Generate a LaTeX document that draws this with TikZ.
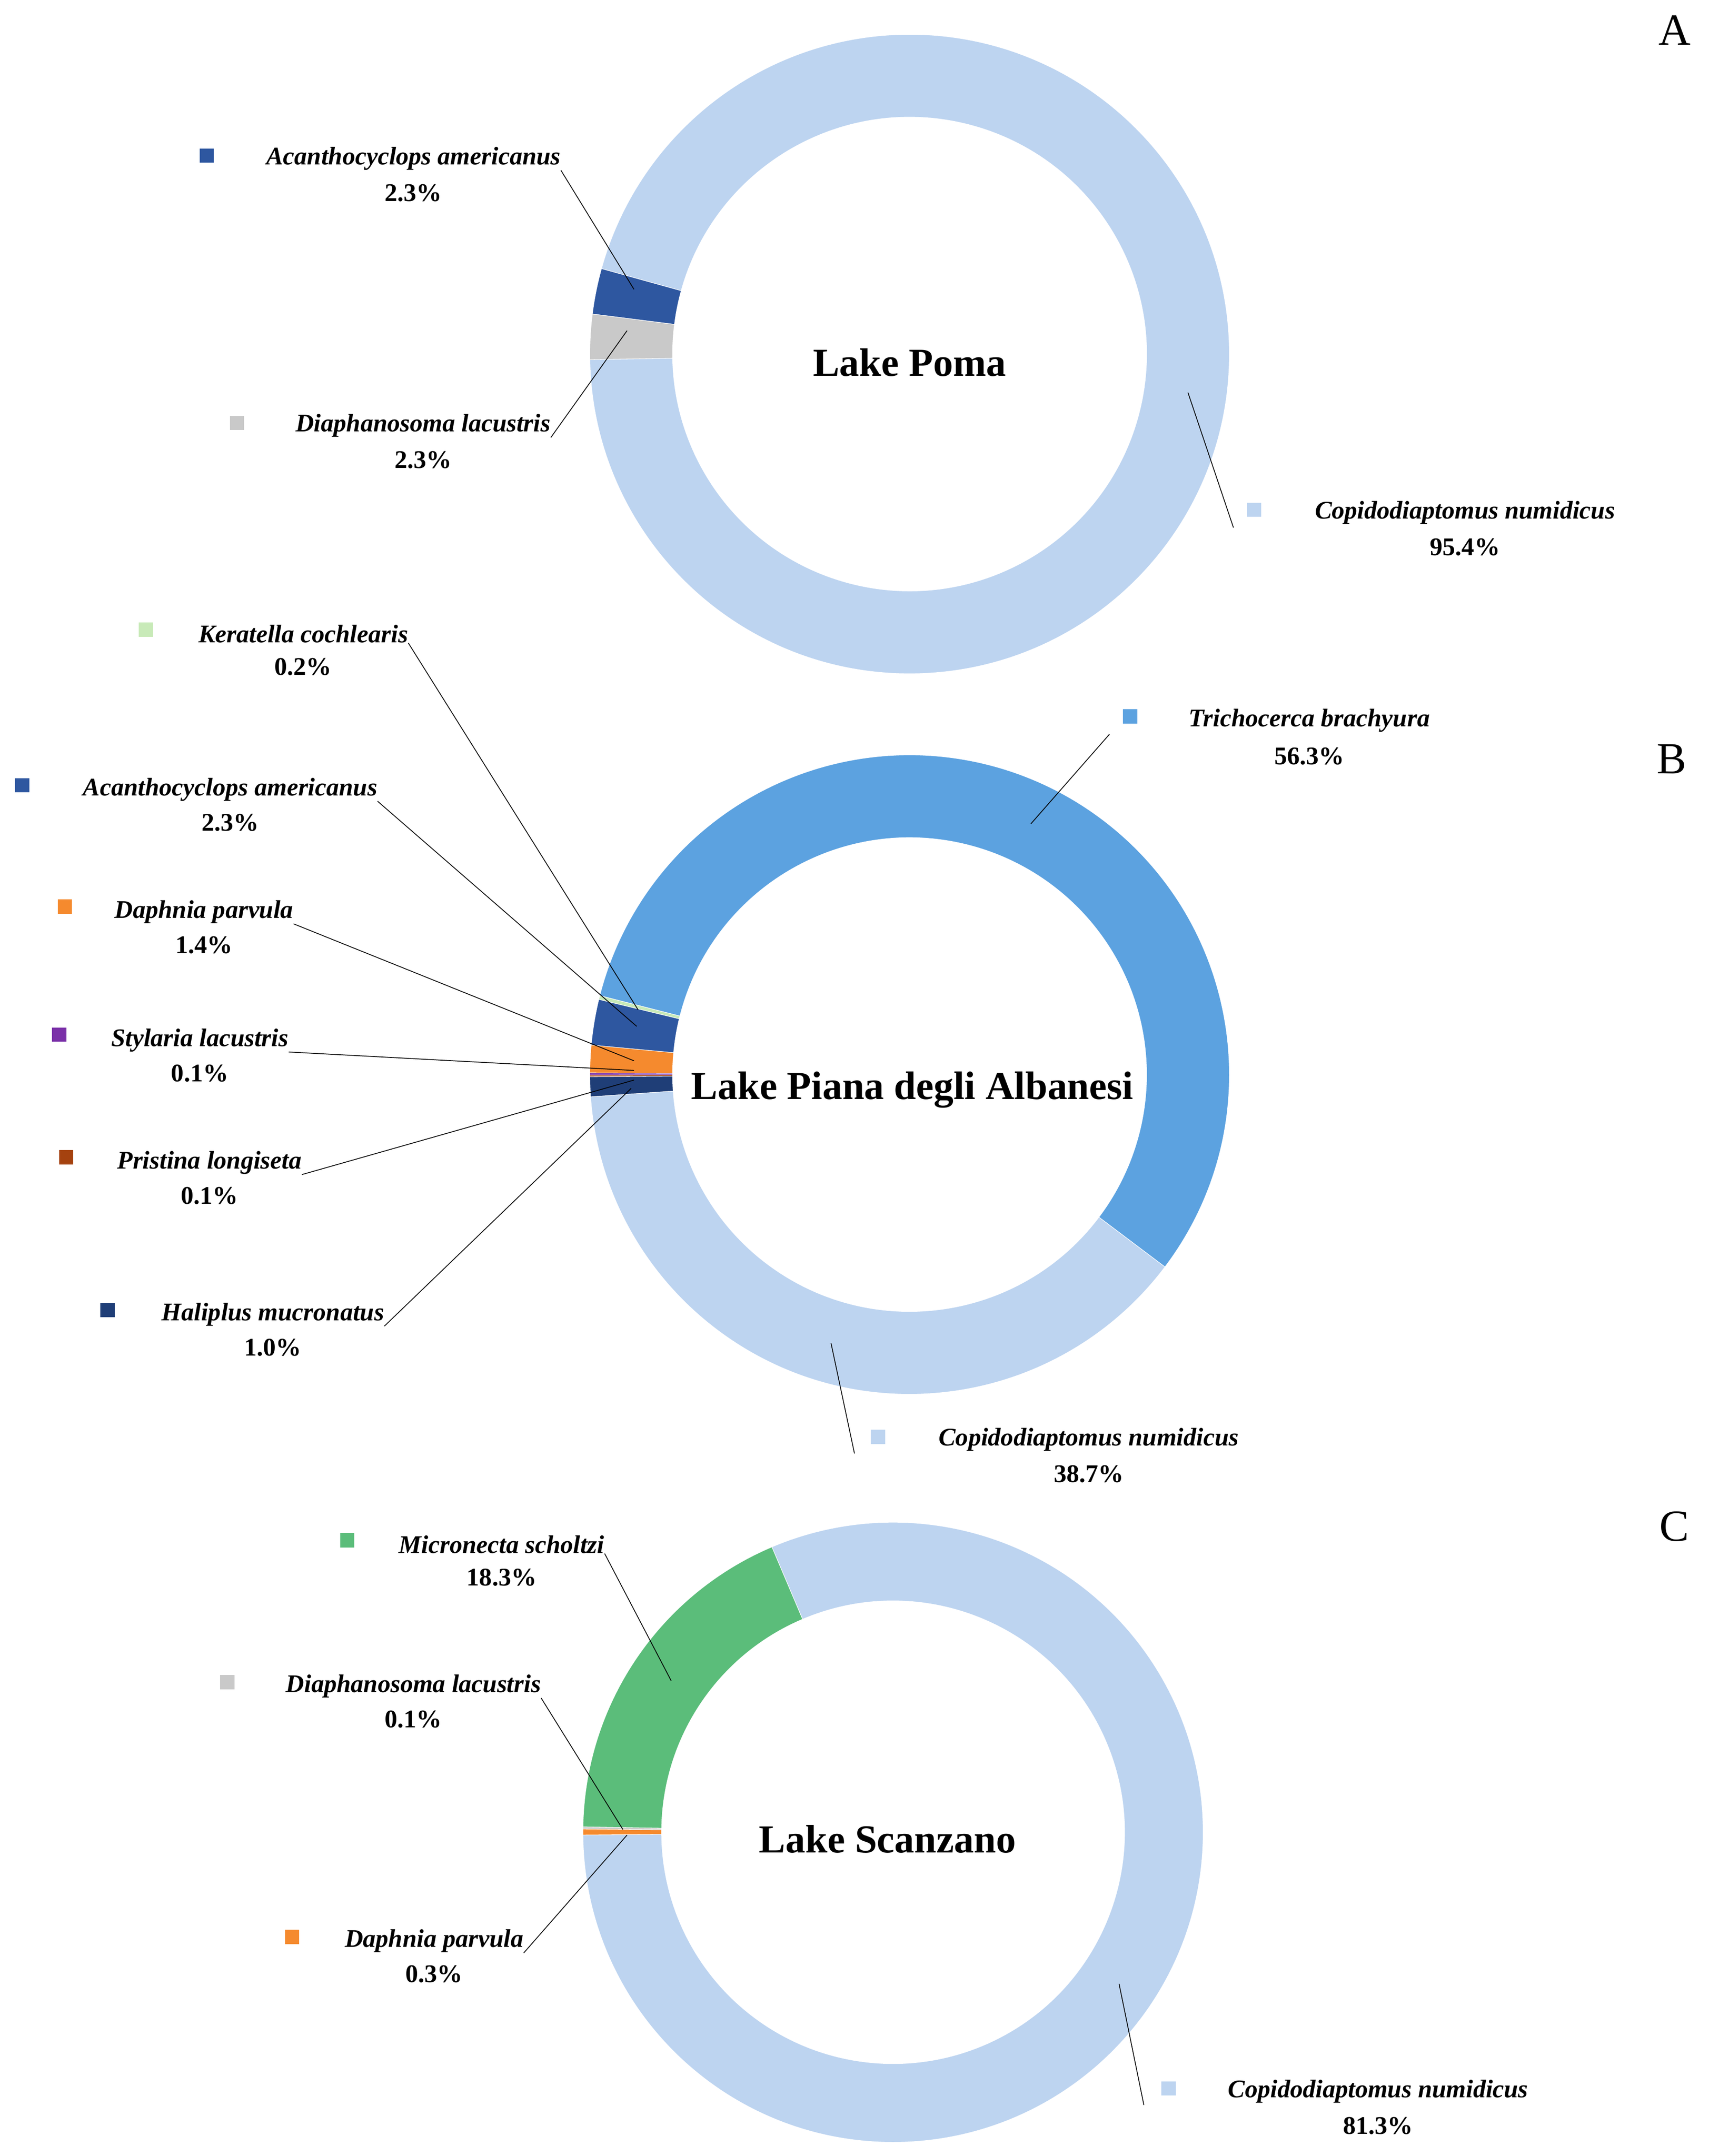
\documentclass[tikz,border=0pt]{standalone}
\usepackage{fontspec}
\setmainfont{Liberation Serif}
\begin{document}
\begin{tikzpicture}[x=0.0305cm,y=0.0305cm,
  lab/.style={font=\fontsize{16}{19}\selectfont\bfseries\itshape,inner sep=0pt},
  pct/.style={font=\fontsize{16}{19}\selectfont\bfseries,inner sep=0pt},
  ttl/.style={font=\fontsize{25}{30}\selectfont\bfseries,inner sep=0pt},
  let/.style={font=\fontsize{28}{32}\selectfont,inner sep=0pt},
  mk/.style={minimum size=9pt,inner sep=0pt},
  lead/.style={draw=black,line width=0.5pt}]
\definecolor{lb}{HTML}{BDD4F0}\definecolor{db}{HTML}{2E57A0}\definecolor{gr}{HTML}{C9C9C9}
\definecolor{mb}{HTML}{5CA2E0}\definecolor{og}{HTML}{F58A2E}\definecolor{pu}{HTML}{7A30A8}
\definecolor{br}{HTML}{A5420F}\definecolor{nv}{HTML}{1F3E77}\definecolor{gn}{HTML}{5BBD7A}
\definecolor{lg}{HTML}{C8EAB8}
\useasboundingbox (0,0) rectangle (1240,-1565);
\newcommand{\seg}[7]{\fill[#7,draw=white,line width=0.3pt] ([shift={(#1,#2)}]#5:#3) arc[start angle=#5,end angle=#6,radius=#3] -- ([shift={(#1,#2)}]#6:#4) arc[start angle=#6,end angle=#5,radius=#4] -- cycle;}
% A
\seg{660}{-257}{232}{172}{181}{524.5}{lb}
\seg{660}{-257}{232}{172}{164.5}{172.8}{db}
\seg{660}{-257}{232}{172}{172.8}{181}{gr}
\node[ttl] (tA) at (660,-263) {Lake Poma};
\node[let] (LA) at (1215,-22) {A};
\node[lab] (a1) at (300,-115) {Acanthocyclops americanus};\node[pct] at (300,-140) {2.3\%};\node[mk,fill=db] at (150,-113) {};
\node[lab] (a2) at (307,-309) {Diaphanosoma lacustris};\node[pct] at (307,-334) {2.3\%};\node[mk,fill=gr] at (172,-307) {};
\node[lab] (a3) at (1063,-372) {Copidodiaptomus numidicus};\node[pct] at (1063,-397) {95.4\%};\node[mk,fill=lb] at (910,-370) {};
\coordinate (ea1) at (460,-210);\coordinate (ea2) at (455,-240);\coordinate (ea3) at (862,-285);
\draw[lead] (a1.south east) -- (ea1);\draw[lead] (a2.south east) -- (ea2);\draw[lead] (895,-383) -- (ea3);
% B
\seg{660}{-780}{232}{172}{-37}{165.7}{mb}
\seg{660}{-780}{232}{172}{165.7}{166.4}{lg}
\seg{660}{-780}{232}{172}{166.4}{174.7}{db}
\seg{660}{-780}{232}{172}{174.7}{179.7}{og}
\seg{660}{-780}{232}{172}{179.7}{180.1}{pu}
\seg{660}{-780}{232}{172}{180.1}{180.4}{br}
\seg{660}{-780}{232}{172}{180.4}{184}{nv}
\seg{660}{-780}{232}{172}{184}{323}{lb}
\node[ttl] (tB) at (662,-791) {Lake Piana degli Albanesi};
\node[let] (LB) at (1213,-551) {B};
\node[lab] (b1) at (220,-460) {Keratella cochlearis};\node[pct] at (220,-484) {0.2\%};\node[mk,fill=lg] at (106,-457) {};
\node[lab] (b2) at (950,-523) {Trichocerca brachyura};\node[pct] at (950,-549) {56.3\%};\node[mk,fill=mb] at (820,-520) {};
\node[lab] (b3) at (167,-573) {Acanthocyclops americanus};\node[pct] at (167,-597) {2.3\%};\node[mk,fill=db] at (16,-570) {};
\node[lab] (b4) at (148,-662) {Daphnia parvula};\node[pct] at (148,-686) {1.4\%};\node[mk,fill=og] at (47,-658) {};
\node[lab] (b5) at (145,-755) {Stylaria lacustris};\node[pct] at (145,-779) {0.1\%};\node[mk,fill=pu] at (43,-751) {};
\node[lab] (b6) at (152,-844) {Pristina longiseta};\node[pct] at (152,-868) {0.1\%};\node[mk,fill=br] at (48,-840) {};
\node[lab] (b7) at (198,-954) {Haliplus mucronatus};\node[pct] at (198,-978) {1.0\%};\node[mk,fill=nv] at (78,-951) {};
\node[lab] (b8) at (790,-1045) {Copidodiaptomus numidicus};\node[pct] at (790,-1070) {38.7\%};\node[mk,fill=lb] at (637,-1043) {};
\coordinate (eb1) at (463,-733);\coordinate (eb2) at (748,-598);\coordinate (eb3) at (462,-745);
\coordinate (eb4) at (460,-770);\coordinate (eb5) at (460,-777);\coordinate (eb6) at (460,-784);
\coordinate (eb7) at (458,-790);\coordinate (eb8) at (603,-975);
\draw[lead] (b1.south east) -- (eb1);\draw[lead] (805,-533) -- (eb2);\draw[lead] (b3.south east) -- (eb3);
\draw[lead] (b4.south east) -- (eb4);\draw[lead] (b5.south east) -- (eb5);\draw[lead] (b6.south east) -- (eb6);
\draw[lead] (b7.south east) -- (eb7);\draw[lead] (620,-1055) -- (eb8);
% C
\seg{648}{-1330}{225}{168}{180.5}{473}{lb}
\seg{648}{-1330}{225}{168}{113}{179}{gn}
\seg{648}{-1330}{225}{168}{179}{179.4}{gr}
\seg{648}{-1330}{225}{168}{179.4}{180.5}{og}
\node[ttl] (tC) at (644,-1335) {Lake Scanzano};
\node[let] (LC) at (1215,-1108) {C};
\node[lab] (c1) at (364,-1121) {Micronecta scholtzi};\node[pct] at (364,-1145) {18.3\%};\node[mk,fill=gn] at (252,-1118) {};
\node[lab] (c2) at (300,-1224) {Diaphanosoma lacustris};\node[pct] at (300,-1248) {0.1\%};\node[mk,fill=gr] at (165,-1221) {};
\node[lab] (c3) at (315,-1409) {Daphnia parvula};\node[pct] at (315,-1433) {0.3\%};\node[mk,fill=og] at (212,-1406) {};
\node[lab] (c4) at (1000,-1518) {Copidodiaptomus numidicus};\node[pct] at (1000,-1543) {81.3\%};\node[mk,fill=lb] at (848,-1516) {};
\coordinate (ec1) at (487,-1220);\coordinate (ec2) at (452,-1328);\coordinate (ec3) at (455,-1332);\coordinate (ec4) at (812,-1440);
\draw[lead] (c1.south east) -- (ec1);\draw[lead] (c2.south east) -- (ec2);\draw[lead] (c3.south east) -- (ec3);\draw[lead] (830,-1528) -- (ec4);
\end{tikzpicture}
\end{document}
